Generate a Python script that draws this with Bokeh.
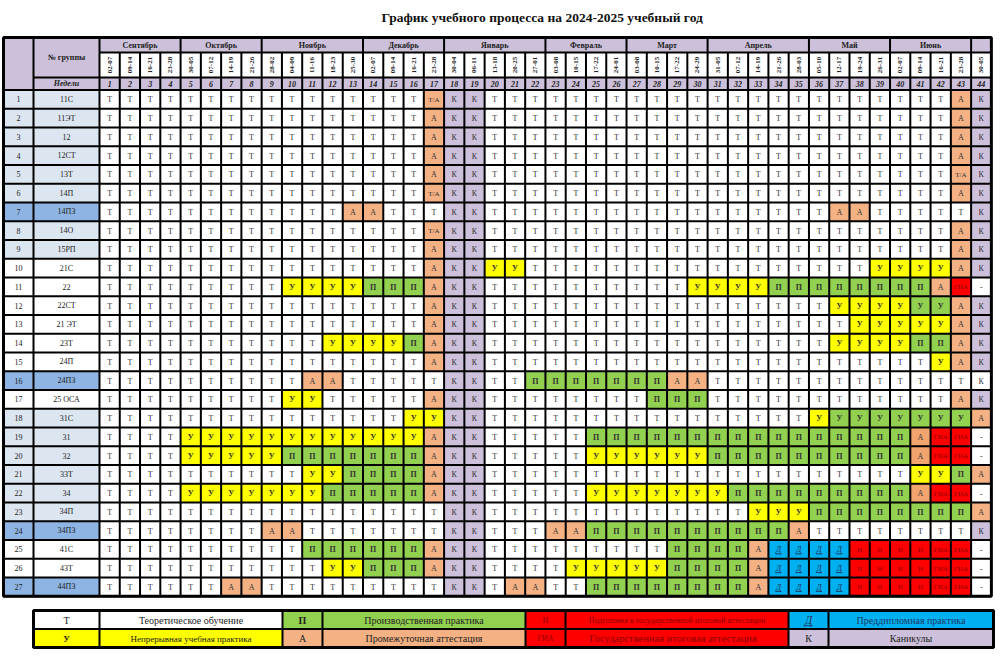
import math
from bokeh.plotting import figure
from bokeh.models import ColumnDataSource, Range1d
from bokeh.core.properties import value
from bokeh.embed import file_html
from bokeh.resources import INLINE

# ---------------- data ----------------
TITLE = "График учебного процесса   на 2024-2025 учебный год"

MONTHS = ["Сентябрь", "Октябрь", "Ноябрь", "Декабрь", "Январь", "Февраль",
          "Март", "Апрель", "Май", "Июнь", ""]
MONTH_SPANS = [4, 4, 5, 4, 5, 4, 4, 5, 4, 4, 1]

WEEK_DATES = ["02-07", "09-14", "16-21", "23-28",
              "30-05", "07-12", "14-19", "21-26",
              "28-02", "04-09", "11-16", "18-23", "25-30",
              "02-07", "09-14", "16-21", "23-28",
              "30-04", "06-11", "13-18", "20-25", "27-01",
              "03-08", "10-15", "17-22", "24-01",
              "03-08", "10-15", "17-22", "24-29",
              "31-05", "07-12", "14-19", "21-26", "28-03",
              "05-10", "12-17", "19-24", "26-31",
              "02-07", "09-14", "16-21", "23-28",
              "30-05"]

WEEK_NUMS = ["1", "2", "3", "4", "5", "6", "7", "8", "9", "10", "11", "12", "13",
             "14", "15", "16", "17", "18", "19", "20", "21", "22", "23", "24", "25",
             "26", "27", "28", "29", "30", "31", "32", "33", "34", "35", "36", "37",
             "38", "39", "40", "41", "42", "43", "44"]

ROW_NUMS = ["1", "2", "3", "4", "5", "6", "7", "8", "9", "10", "11", "12", "13", "14",
            "15", "16", "17", "18", "19", "20", "21", "22", "23", "24", "25", "26", "27"]

GROUPS = ["11С", "11ЭТ", "12", "12СТ", "13Т", "14П", "14ПЗ", "14О", "15РП",
          "21С", "22", "22СТ", "21 ЭТ", "23Т", "24П", "24ПЗ", "25 ОСА",
          "31С", "31", "32", "33Т", "34", "34П", "34ПЗ", "41С", "43Т", "44ПЗ"]

GROUP_SHADE = ["light", "light", "light", "light", "light", "light", "dark", "light", "light",
               "white", "white", "white", "white", "white", "white", "dark", "white",
               "light", "light", "light", "light", "light", "light", "dark",
               "white", "white", "dark"]

# one string per group, months separated by "|"
SCHEDULE = [
    "Т Т Т Т|Т Т Т Т|Т Т Т Т Т|Т Т Т Т/А|К К Т Т Т|Т Т Т Т|Т Т Т Т|Т Т Т Т Т|Т Т Т Т|Т Т Т А|К",
    "Т Т Т Т|Т Т Т Т|Т Т Т Т Т|Т Т Т А|К К Т Т Т|Т Т Т Т|Т Т Т Т|Т Т Т Т Т|Т Т Т Т|Т Т Т А|К",
    "Т Т Т Т|Т Т Т Т|Т Т Т Т Т|Т Т Т А|К К Т Т Т|Т Т Т Т|Т Т Т Т|Т Т Т Т Т|Т Т Т Т|Т Т Т А|К",
    "Т Т Т Т|Т Т Т Т|Т Т Т Т Т|Т Т Т А|К К Т Т Т|Т Т Т Т|Т Т Т Т|Т Т Т Т Т|Т Т Т Т|Т Т Т А|К",
    "Т Т Т Т|Т Т Т Т|Т Т Т Т Т|Т Т Т А|К К Т Т Т|Т Т Т Т|Т Т Т Т|Т Т Т Т Т|Т Т Т Т|Т Т Т Т/А|К",
    "Т Т Т Т|Т Т Т Т|Т Т Т Т Т|Т Т Т Т/А|К К Т Т Т|Т Т Т Т|Т Т Т Т|Т Т Т Т Т|Т Т Т Т|Т Т Т А|К",
    "Т Т Т Т|Т Т Т Т|Т Т Т Т А|А Т Т Т|К К Т Т Т|Т Т Т Т|Т Т Т Т|Т Т Т Т Т|Т А А Т|Т Т Т Т|К",
    "Т Т Т Т|Т Т Т Т|Т Т Т Т Т|Т Т Т Т/А|К К Т Т Т|Т Т Т Т|Т Т Т Т|Т Т Т Т Т|Т Т Т Т|Т Т Т А|К",
    "Т Т Т Т|Т Т Т Т|Т Т Т Т Т|Т Т Т А|К К Т Т Т|Т Т Т Т|Т Т Т Т|Т Т Т Т Т|Т Т Т Т|Т Т Т А|К",
    "Т Т Т Т|Т Т Т Т|Т Т Т Т Т|Т Т Т А|К К У У Т|Т Т Т Т|Т Т Т Т|Т Т Т Т Т|Т Т Т У|У У У А|К",
    "Т Т Т Т|Т Т Т Т|Т У У У У|П П П А|К К Т Т Т|Т Т Т Т|Т Т Т У|У У У П П|П П П П|П П А ГИА|-",
    "Т Т Т Т|Т Т Т Т|Т Т Т Т Т|Т Т Т А|К К Т Т Т|Т Т Т Т|Т Т Т Т|Т Т Т Т Т|Т У У У|У У У А|К",
    "Т Т Т Т|Т Т Т Т|Т Т Т Т Т|Т Т Т А|К К Т Т Т|Т Т Т Т|Т Т Т Т|Т Т Т Т Т|Т Т У У|У У У А|К",
    "Т Т Т Т|Т Т Т Т|Т Т Т У У|У У П А|К К Т Т Т|Т Т Т Т|Т Т Т Т|Т Т Т Т Т|Т У У У|У П П А|К",
    "Т Т Т Т|Т Т Т Т|Т Т Т Т Т|Т Т Т А|К К Т Т Т|Т Т Т Т|Т Т Т Т|Т Т Т Т Т|Т Т Т Т|Т Т У А|К",
    "Т Т Т Т|Т Т Т Т|Т Т А А Т|Т Т Т Т|К К Т Т П|П П П П|П П А А|Т Т Т Т Т|Т Т Т Т|Т Т Т Т|К",
    "Т Т Т Т|Т Т Т Т|Т У У Т Т|Т Т Т А|К К Т Т Т|Т Т Т Т|Т П П П|Т Т Т Т Т|Т Т Т Т|Т Т Т А|К",
    "Т Т Т Т|Т Т Т Т|Т Т Т Т Т|Т Т У У|К К Т Т Т|Т Т Т Т|Т Т Т Т|Т Т Т Т Т|У У У У|У У У У|А",
    "Т Т Т Т|У У У У|У У У У У|У У У А|К К Т Т Т|Т Т П П|П П П П|П П П П П|П П П П|П А ГИА ГИА|-",
    "Т Т Т Т|У У У У|У П П П П|П П П А|К К Т Т Т|Т Т У У|У У У У|П П П П П|П П П П|П А ГИА ГИА|-",
    "Т Т Т Т|Т Т Т Т|Т Т У У П|П П П А|К К Т Т Т|Т Т Т Т|Т Т Т Т|Т Т Т Т Т|Т Т Т Т|Т У У П|А",
    "Т Т Т Т|У У У У|У У У П П|П П П А|К К Т Т Т|Т Т У У|У У У У|У П П П П|П П П П|П А ГИА ГИА|-",
    "Т Т Т Т|Т Т Т Т|Т Т Т Т Т|Т Т Т Т|К К Т Т Т|Т Т Т Т|Т Т Т Т|Т Т У У У|П П П П|П П П П|А",
    "Т Т Т Т|Т Т Т Т|А А Т Т Т|Т Т Т Т|К К Т Т Т|А А П П|П П П П|П П П П А|Т Т Т Т|Т Т Т Т|К",
    "Т Т Т Т|Т Т Т Т|Т Т П П П|П П П А|К К Т Т Т|Т Т Т Т|Т Т П П|П П А Д Д|Д Д И И|И И ГИА ГИА|-",
    "Т Т Т Т|Т Т Т Т|Т Т Т У У|П П П А|К К Т Т Т|Т У У У|У У П П|П П А Д Д|Д Д И И|И И ГИА ГИА|-",
    "Т Т Т Т|Т Т А А|Т Т Т Т Т|Т Т Т Т|К К Т А А|Т Т П П|П П П П|П П А Д Д|Д Д И И|И И ГИА ГИА|-",
]

# cells (group no., week no.) whose "У" sits on a green background
GREEN_U_CELLS = [(12, 41), (12, 42), (18, 37), (18, 38), (18, 39), (18, 40),
                 (18, 41), (18, 42), (18, 43)]
# darker attestation cells
DARK_A_CELLS = [(19, 41), (20, 41), (22, 41)]
# holiday cells without shading
WHITE_K_CELLS = [(16, 44)]

LEGEND_CODES = [["Т", "П", "И", "Д"], ["У", "А", "ГИА", "К"]]
LEGEND_TEXTS = [["Теоретическое обучение", "Производственная практика",
                 "Подготовка к государственной итоговой аттестации", "Преддипломная практика"],
                ["Непрерывная учебная практика", "Промежуточная аттестация",
                 "Государственная  итоговая   аттестация", "Каникулы"]]

# ---------------- styles ----------------
LAV = "#CCC0DA"
PEACH = "#F4B183"
DARKPEACH = "#F2A46E"
YEL = "#FFFF00"
GRN = "#92D050"
BLU = "#00B0F0"
RED = "#FF0000"
DRED = "#8B0000"
FILL = {"Т": "#FFFFFF", "Т/А": PEACH, "А": PEACH, "К": LAV, "У": YEL, "П": GRN,
        "Д": BLU, "И": RED, "ГИА": RED, "-": "#FFFFFF"}
SHADE = {"light": "#DCE6F1", "dark": "#8DB4E2", "white": "#FFFFFF"}
FONT = value("Liberation Serif")

# geometry (page pixels)
L, C1, C2 = 3.0, 33.0, 99.0
WW = 20.27
R = C2 + 44 * WW
Y0, Y1, Y2, Y3 = 37.0, 52.0, 77.0, 89.5
RH = 18.75
YB = Y3 + 27 * RH

W_PX, H_PX = 1000, 661
p = figure(width=W_PX, height=H_PX, x_range=Range1d(0, W_PX), y_range=Range1d(H_PX, 0),
           toolbar_location=None, output_backend="svg", min_border=0,
           x_axis_location=None, y_axis_location=None)
p.grid.visible = False
p.outline_line_color = None
p.background_fill_color = "white"
p.border_fill_color = "white"

Q = dict(l=[], r=[], t=[], b=[], c=[])
T = dict(x=[], y=[], text=[], fs=[], fst=[], tc=[], ang=[])
U = dict(x0=[], y0=[], x1=[], y1=[])


def quad(l, r, t, b, c):
    Q["l"].append(l); Q["r"].append(r); Q["t"].append(t); Q["b"].append(b); Q["c"].append(c)


def txt(x, y, s, fs="8px", fst="normal", tc="#222222", ang=0.0):
    T["x"].append(x); T["y"].append(y); T["text"].append(s); T["fs"].append(fs)
    T["fst"].append(fst); T["tc"].append(tc); T["ang"].append(ang)


# header
quad(L, C1, Y0, Y3, LAV)
quad(C1, C2, Y0, Y2, LAV)
txt((C1 + C2) / 2, (Y0 + Y2) / 2, "№ группы", "8px", "bold")
quad(C1, C2, Y2, Y3, LAV)
txt((C1 + C2) / 2, (Y2 + Y3) / 2, "Недели", "8px", "bold italic")
w0 = 0
for m, span in zip(MONTHS, MONTH_SPANS):
    xl = C2 + w0 * WW
    xr = xl + span * WW
    quad(xl, xr, Y0, Y1, LAV)
    if m:
        txt((xl + xr) / 2, (Y0 + Y1) / 2, m, "8px", "bold")
    w0 += span
for i, (d, n) in enumerate(zip(WEEK_DATES, WEEK_NUMS)):
    xl = C2 + i * WW
    xc = xl + WW / 2
    quad(xl, xl + WW, Y1, Y2, "#FFFFFF")
    txt(xc, (Y1 + Y2) / 2, d, "7px", "bold", "#222222", math.pi / 2)
    quad(xl, xl + WW, Y2, Y3, LAV)
    txt(xc, (Y2 + Y3) / 2 + 0.5, n, "8px", "bold italic")

# body
for r, (num, grp, sh, row) in enumerate(zip(ROW_NUMS, GROUPS, GROUP_SHADE, SCHEDULE)):
    toks = row.replace("|", " ").split()
    assert len(toks) == 44, (r, len(toks))
    yt = Y3 + r * RH
    yb = yt + RH
    yc = (yt + yb) / 2
    quad(L, C1, yt, yb, SHADE[sh])
    quad(C1, C2, yt, yb, SHADE[sh])
    txt((L + C1) / 2, yc, num, "8px")
    txt((C1 + C2) / 2, yc, grp, "8px")
    for w, tok in enumerate(toks):
        xl = C2 + w * WW
        xc = xl + WW / 2
        key = (r + 1, w + 1)
        c = FILL[tok]
        if key in GREEN_U_CELLS:
            c = GRN
        if key in DARK_A_CELLS:
            c = DARKPEACH
        if key in WHITE_K_CELLS:
            c = "#FFFFFF"
        quad(xl, xl + WW, yt, yb, c)
        fs, fst, tc = "8px", "normal", "#333333"
        if tok in ("У", "П"):
            fst = "bold"
        if tok == "Т/А":
            fs = "7px"
        if tok in ("И", "ГИА"):
            fs, tc = "7px", DRED
        if tok == "Д":
            fst, tc = "italic", "#1F3864"
            U["x0"].append(xc - 3); U["x1"].append(xc + 3)
            U["y0"].append(yc + 4.5); U["y1"].append(yc + 4.5)
        txt(xc, yc + 0.5, tok, fs, fst, tc)

# legend
LX = [33.0, 99.0, 282.0, 322.0, 525.0, 565.0, 788.0, 828.0, 993.0]
LY = [610.0, 628.5, 647.0]
LEG_FILL = {"Т": "#FFFFFF", "У": YEL, "П": GRN, "А": PEACH, "И": RED, "ГИА": RED, "Д": BLU, "К": LAV}
for ri in range(2):
    yt, yb = LY[ri], LY[ri + 1]
    yc = (yt + yb) / 2
    for j in range(4):
        code = LEGEND_CODES[ri][j]
        label = LEGEND_TEXTS[ri][j]
        x0, x1, x2 = LX[2 * j], LX[2 * j + 1], LX[2 * j + 2]
        quad(x0, x1, yt, yb, LEG_FILL[code])
        quad(x1, x2, yt, yb, LEG_FILL[code])
        cfs, cst, ctc = "10px", "normal", "#222222"
        lfs, ltc = "10px", "#222222"
        if code in ("У", "П"):
            cst = "bold"
        if code == "У":
            cfs, lfs = "9px", "9px"
        if code == "И":
            cfs, lfs, ctc, ltc = "8px", "8px", DRED, DRED
        if code == "ГИА":
            cfs, lfs, ctc, ltc = "8px", "10.5px", DRED, DRED
        if code == "Д":
            cfs, cst, ctc, ltc = "12px", "italic", "#1F3864", "#1F3864"
            xc = (x0 + x1) / 2
            U["x0"].append(xc - 4); U["x1"].append(xc + 4)
            U["y0"].append(yc + 6); U["y1"].append(yc + 6)
        txt((x0 + x1) / 2, yc + 0.5, code, cfs, cst, ctc)
        txt((x1 + x2) / 2, yc + 0.5, label, lfs, "normal", ltc)

p.quad(left="l", right="r", top="t", bottom="b", fill_color="c", line_color=None,
       source=ColumnDataSource(Q))

# grid lines
S = dict(x0=[], y0=[], x1=[], y1=[])


def seg(a, b, c, d):
    S["x0"].append(a); S["y0"].append(b); S["x1"].append(c); S["y1"].append(d)


seg(C2, Y1, R, Y1)
seg(C1, Y2, R, Y2)
for r in range(28):
    seg(L, Y3 + r * RH, R, Y3 + r * RH)
seg(C1, Y0, C1, YB)
seg(C2, Y0, C2, YB)
bounds = []
acc = 0
for s in MONTH_SPANS:
    acc += s
    bounds.append(acc)
for k in range(1, 44):
    seg(C2 + k * WW, Y0 if k in bounds else Y1, C2 + k * WW, YB)
for yy in LY:
    seg(LX[0], yy, LX[-1], yy)
for xx in LX:
    seg(xx, LY[0], xx, LY[-1])
p.segment(x0="x0", y0="y0", x1="x1", y1="y1", line_color="black", line_width=2,
          source=ColumnDataSource(S))
# outer frames
p.quad(left=[L, LX[0]], right=[R, LX[-1]], top=[Y0, LY[0]], bottom=[YB, LY[-1]],
       fill_color=None, line_color="black", line_width=3)
# underlines for Д
p.segment(x0="x0", y0="y0", x1="x1", y1="y1", line_color="#1F3864", line_width=1,
          source=ColumnDataSource(U))

p.text(x="x", y="y", text="text", text_font_size="fs", text_font_style="fst",
       text_color="tc", angle="ang", text_align="center", text_baseline="middle",
       text_font=FONT, source=ColumnDataSource(T))

p.text(x=[545], y=[17], text=[TITLE], text_font=FONT, text_font_size="13.5px",
       text_font_style="bold", text_color="#111111", text_align="center",
       text_baseline="middle")

open("out.html", "w").write(file_html(p, INLINE))
